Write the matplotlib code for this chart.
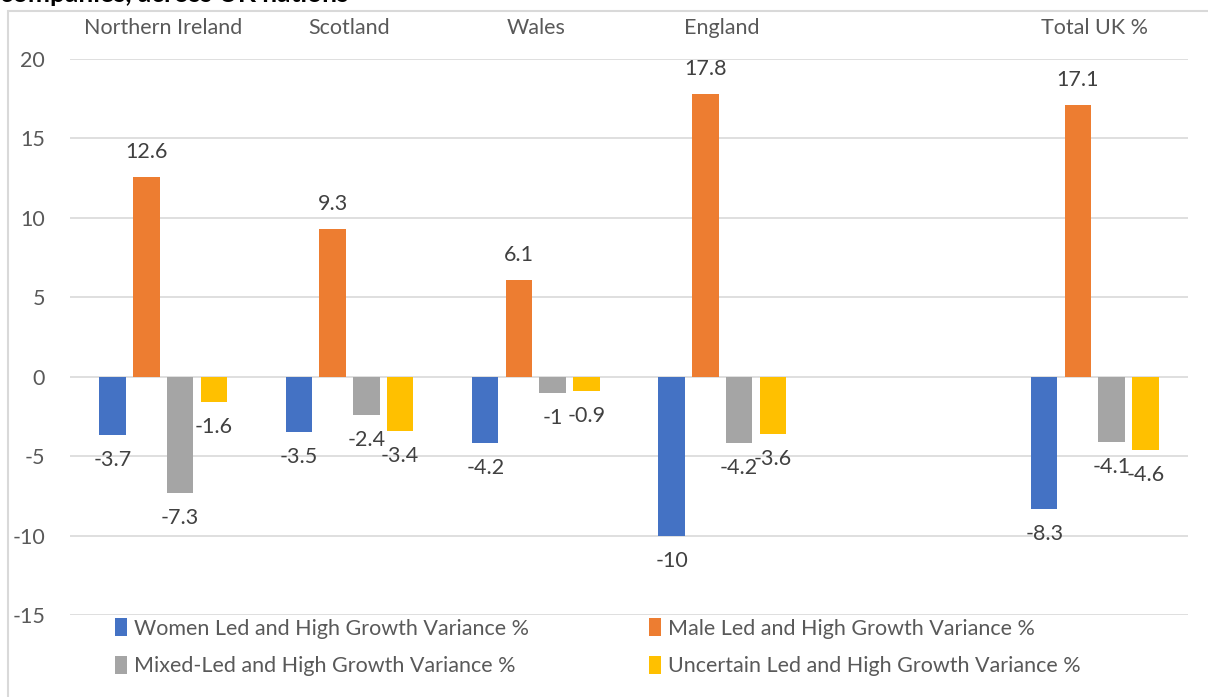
import matplotlib
matplotlib.use("Agg")
import matplotlib.pyplot as plt
import numpy as np
from matplotlib.patches import Rectangle, Patch

categories = ["Northern Ireland", "Scotland", "Wales", "England", "", "Total UK %"]
women = [-3.7, -3.5, -4.2, -10, None, -8.3]
male = [12.6, 9.3, 6.1, 17.8, None, 17.1]
mixed = [-7.3, -2.4, -1, -4.2, None, -4.1]
uncertain = [-1.6, -3.4, -0.9, -3.6, None, -4.6]
series_names = ["Women Led and High Growth Variance %",
                "Male Led and High Growth Variance %",
                "Mixed-Led and High Growth Variance %",
                "Uncertain Led and High Growth Variance %"]
colors = ["#4472C4", "#ED7D31", "#A5A5A5", "#FFC000"]
yticks = [20, 15, 10, 5, 0, -5, -10, -15]

plt.rcParams['font.family'] = ['Lato', 'DejaVu Sans']

W, H = 1208, 697
fig = plt.figure(figsize=(W / 100, H / 100), dpi=100)
ax = fig.add_axes([70 / W, 1 - 615 / H, (1188 - 70) / W, (615 - 59) / H])

# chart border (cropped)
fig.patches.append(Rectangle((8 / W, -0.1), 1.2, 1 - 11 / H + 0.1, transform=fig.transFigure,
                             fill=False, edgecolor="#D9D9D9", linewidth=1.5))

# title (cropped at top, as in the reference)
fig.text(0 / W, 1 + 6 / H, "companies, across UK nations", fontsize=19, fontweight='bold',
         color='black', ha='left', va='center')

x = np.arange(len(categories))
step = 0.181
width = 0.142
all_series = [women, male, mixed, uncertain]
handles = []
for i, (vals, c, name) in enumerate(zip(all_series, colors, series_names)):
    xs = [xi + (i - 1.5) * step for xi, v in zip(x, vals) if v is not None]
    vs = [v for v in vals if v is not None]
    ax.bar(xs, vs, width=width, color=c, zorder=3)
    for xx, v in zip(xs, vs):
        ax.annotate(f"{v:g}", (xx, v), xytext=(0, 18 if v > 0 else -18),
                    textcoords='offset points', ha='center', va='center',
                    fontsize=15.5, color='#404040', zorder=4)
    handles.append(Patch(facecolor=c, edgecolor='none', label=name))

ax.set_xlim(-0.5, len(categories) - 0.5)
ax.set_ylim(-15, 20)
ax.set_yticks(yticks)
ax.set_yticklabels([str(t) for t in yticks])
ax.grid(axis='y', color='#D9D9D9', linewidth=1.2, zorder=0)
for s in ax.spines.values():
    s.set_visible(False)
ax.xaxis.tick_top()
ax.set_xticks(x)
ax.set_xticklabels(categories)
ax.tick_params(axis='x', length=0, pad=15, labelsize=15.5, labelcolor='#595959')
ax.tick_params(axis='y', length=0, pad=18, labelsize=15.5, labelcolor='#595959')

order = [0, 2, 1, 3]
leg = fig.legend([handles[i] for i in order], [series_names[i] for i in order],
                 ncol=2, loc='upper left', bbox_to_anchor=(96 / W, 1 - 599 / H),
                 frameon=False, fontsize=15.5, labelcolor='#595959',
                 handlelength=0.55, handleheight=0.9, handletextpad=0.3,
                 columnspacing=5.6, labelspacing=0.8)

fig.savefig("out.png", dpi=100, facecolor='white')
